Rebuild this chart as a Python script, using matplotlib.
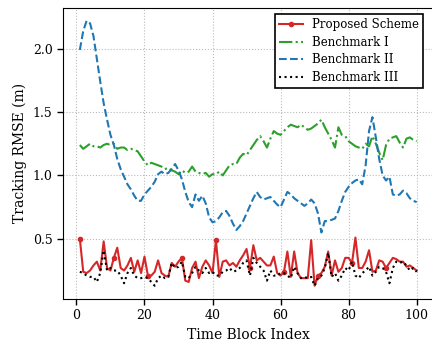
import numpy as np
import matplotlib
matplotlib.use("Agg")
import matplotlib.pyplot as plt

# time block index
blocks = np.arange(1, 101)

proposed = [0.50, 0.24, 0.23, 0.25, 0.29, 0.32, 0.25, 0.48, 0.27, 0.25,
            0.35, 0.43, 0.27, 0.25, 0.29, 0.35, 0.24, 0.33, 0.23, 0.36,
            0.21, 0.21, 0.24, 0.33, 0.23, 0.21, 0.20, 0.31, 0.28, 0.32,
            0.35, 0.17, 0.16, 0.27, 0.32, 0.19, 0.28, 0.33, 0.29, 0.23,
            0.49, 0.20, 0.32, 0.33, 0.29, 0.31, 0.28, 0.33, 0.37, 0.42,
            0.27, 0.45, 0.33, 0.35, 0.32, 0.29, 0.29, 0.36, 0.23, 0.21,
            0.24, 0.40, 0.20, 0.40, 0.23, 0.19, 0.19, 0.19, 0.49, 0.13,
            0.21, 0.23, 0.28, 0.40, 0.21, 0.33, 0.24, 0.27, 0.35, 0.35,
            0.31, 0.51, 0.27, 0.27, 0.32, 0.41, 0.24, 0.25, 0.33, 0.32,
            0.27, 0.31, 0.35, 0.34, 0.32, 0.32, 0.28, 0.29, 0.27, 0.25]

bench1 = [1.24, 1.21, 1.23, 1.25, 1.23, 1.23, 1.22, 1.24, 1.25, 1.24,
          1.25, 1.21, 1.22, 1.22, 1.20, 1.21, 1.20, 1.19, 1.15, 1.11,
          1.08, 1.10, 1.09, 1.08, 1.07, 1.05, 1.06, 1.04, 1.03, 1.01,
          1.04, 1.02, 1.03, 1.07, 1.03, 1.02, 1.01, 1.02, 0.99, 1.01,
          1.01, 1.03, 1.00, 1.04, 1.08, 1.09, 1.09, 1.14, 1.17, 1.16,
          1.20, 1.24, 1.28, 1.31, 1.27, 1.22, 1.29, 1.35, 1.33, 1.32,
          1.35, 1.38, 1.40, 1.39, 1.38, 1.40, 1.38, 1.36, 1.37, 1.39,
          1.41, 1.44, 1.38, 1.33, 1.28, 1.22, 1.38, 1.32, 1.31, 1.27,
          1.25, 1.23, 1.22, 1.21, 1.25, 1.23, 1.31, 1.25, 1.18, 1.12,
          1.24, 1.29, 1.30, 1.31, 1.26, 1.22, 1.29, 1.30, 1.28, 1.27]

bench2 = [1.99, 2.14, 2.22, 2.20, 2.10, 1.92, 1.74, 1.57, 1.44, 1.32,
          1.24, 1.13, 1.05, 0.99, 0.93, 0.89, 0.84, 0.80, 0.80, 0.85,
          0.88, 0.91, 0.95, 1.01, 1.03, 1.01, 1.02, 1.05, 1.09, 1.04,
          0.97, 0.87, 0.79, 0.75, 0.85, 0.80, 0.84, 0.78, 0.67, 0.63,
          0.64, 0.67, 0.71, 0.72, 0.68, 0.62, 0.57, 0.60, 0.64, 0.70,
          0.76, 0.82, 0.87, 0.83, 0.81, 0.82, 0.83, 0.80, 0.77, 0.75,
          0.81, 0.87, 0.85, 0.82, 0.80, 0.78, 0.76, 0.78, 0.81, 0.78,
          0.70, 0.55, 0.64, 0.64, 0.65, 0.66, 0.72, 0.80, 0.87, 0.91,
          0.94, 0.96, 0.97, 0.93, 1.08, 1.35, 1.46, 1.30, 1.13, 1.00,
          0.96, 0.99, 0.85, 0.84, 0.85, 0.88, 0.86, 0.82, 0.80, 0.79]

bench3 = [0.24, 0.23, 0.21, 0.20, 0.20, 0.16, 0.23, 0.41, 0.25, 0.27,
          0.25, 0.25, 0.21, 0.15, 0.23, 0.27, 0.21, 0.19, 0.19, 0.20,
          0.19, 0.16, 0.13, 0.19, 0.21, 0.19, 0.20, 0.31, 0.27, 0.28,
          0.32, 0.20, 0.19, 0.23, 0.28, 0.25, 0.23, 0.27, 0.23, 0.24,
          0.21, 0.21, 0.24, 0.25, 0.27, 0.24, 0.25, 0.27, 0.31, 0.33,
          0.21, 0.35, 0.31, 0.28, 0.25, 0.17, 0.25, 0.21, 0.21, 0.23,
          0.23, 0.21, 0.19, 0.28, 0.23, 0.19, 0.20, 0.19, 0.20, 0.13,
          0.19, 0.21, 0.27, 0.39, 0.20, 0.23, 0.17, 0.21, 0.27, 0.25,
          0.32, 0.21, 0.19, 0.23, 0.25, 0.28, 0.21, 0.24, 0.28, 0.27,
          0.24, 0.15, 0.27, 0.32, 0.31, 0.32, 0.29, 0.25, 0.27, 0.24]

plt.rcParams['font.family'] = 'DejaVu Serif'
plt.rcParams['font.size'] = 9

fig = plt.figure(figsize=(4.32, 3.43), dpi=100)
ax = fig.add_axes([63/432, 1 - 299/343, (433.5 - 63)/432, (299 - 7.5)/343])

ax.plot(blocks, proposed, color='#d62728', lw=1.5, marker='o', markersize=3,
        markevery=10, label='Proposed Scheme')
ax.plot(blocks, bench1, color='#2ca02c', lw=1.5, ls='-.', label='Benchmark I')
ax.plot(blocks, bench2, color='#1f77b4', lw=1.5, ls='--', label='Benchmark II')
ax.plot(blocks, bench3, color='black', lw=1.5, ls=':', label='Benchmark III')

ax.grid(True, ls=':', color='#bbbbbb', lw=0.8)
ax.set_xticks([0, 20, 40, 60, 80, 100])
ax.set_yticks([0.5, 1.0, 1.5, 2.0])
ax.set_xlabel('Time Block Index', fontsize=10)
ax.set_ylabel('Tracking RMSE (m)', fontsize=10)
ax.tick_params(direction='out', length=4, width=1)

leg = ax.legend(loc='upper right', bbox_to_anchor=(0.972, 0.978), borderaxespad=0,
                fancybox=False, framealpha=1, edgecolor='black', fontsize=8.5,
                handlelength=2.0, borderpad=0.35, labelspacing=0.4)
leg.get_frame().set_linewidth(1.2)

fig.savefig('out.png', dpi=100)
